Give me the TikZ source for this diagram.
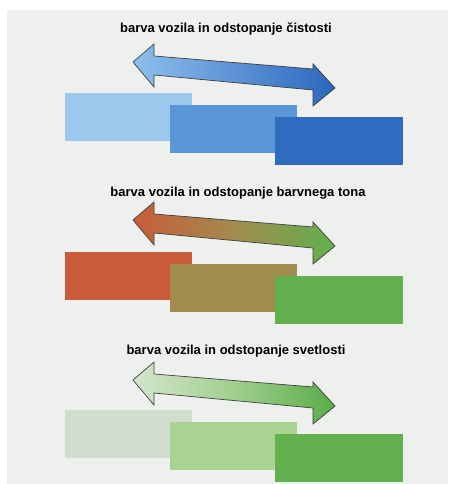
\documentclass[tikz,border=0pt]{standalone}
\usepackage{fontspec}
\setmainfont{Liberation Sans}
\definecolor{bgpanel}{HTML}{EDF0ED}
\definecolor{blueA}{HTML}{9CC8EE}
\definecolor{blueB}{HTML}{5B96D8}
\definecolor{blueC}{HTML}{2F6CC0}
\definecolor{redA}{HTML}{C95B3B}
\definecolor{oliveB}{HTML}{A28B4F}
\definecolor{greenC}{HTML}{62B04E}
\definecolor{paleA}{HTML}{D0DDCF}
\definecolor{lightgB}{HTML}{AAD292}
\definecolor{arrowBlueL}{HTML}{8EBFEC}
\definecolor{arrowBlueR}{HTML}{2B67BE}
\definecolor{arrowPaleL}{HTML}{D2E6CB}
\definecolor{arrowPaleM}{HTML}{A2CF8E}
\definecolor{arrowGreenR}{HTML}{58AC48}
\newcommand\dblArrowPath{(133,62) -- (154,44) -- (154,56) -- (313,69) -- (313,64) -- (335,88) -- (313,106) -- (313,90) -- (154,75) -- (154,87) -- cycle}
\begin{document}
\begin{tikzpicture}[x=1pt,y=-1pt,
  title/.style={font=\bfseries\fontsize{13}{15}\selectfont, anchor=base, inner sep=0pt},
  arrowline/.style={draw=black!75, line width=0.7pt, line join=miter}]
\useasboundingbox (0,0) rectangle (449,484);
\fill[bgpanel] (7,10) rectangle (448,484);

% Section 1: purity
\node[title] (t1) at (226,33) {barva vozila in odstopanje čistosti};
\shade[arrowline, left color=arrowBlueL, right color=arrowBlueR] \dblArrowPath;
\fill[blueA] (65,93) rectangle (192,141);
\fill[blueB] (170,105) rectangle (297,153);
\fill[blueC] (275,117) rectangle (403,165);

% Section 2: hue
\node[title] (t2) at (238,196) {barva vozila in odstopanje barvnega tona};
\begin{scope}[shift={(0,158)}]
\shade[arrowline, left color=redA, right color=greenC, middle color=oliveB] \dblArrowPath;
\end{scope}
\begin{scope}[shift={(0,159)}]
\fill[redA] (65,93) rectangle (192,141);
\fill[oliveB] (170,105) rectangle (297,153);
\fill[greenC] (275,117) rectangle (403,165);
\end{scope}

% Section 3: lightness
\node[title] (t3) at (236,354) {barva vozila in odstopanje svetlosti};
\begin{scope}[shift={(0,318)}]
\shade[arrowline, left color=arrowPaleL, right color=arrowGreenR, middle color=arrowPaleM] \dblArrowPath;
\end{scope}
\begin{scope}[shift={(0,317)}]
\fill[paleA] (65,93) rectangle (192,141);
\fill[lightgB] (170,105) rectangle (297,153);
\fill[greenC] (275,117) rectangle (403,165);
\end{scope}
\end{tikzpicture}
\end{document}
